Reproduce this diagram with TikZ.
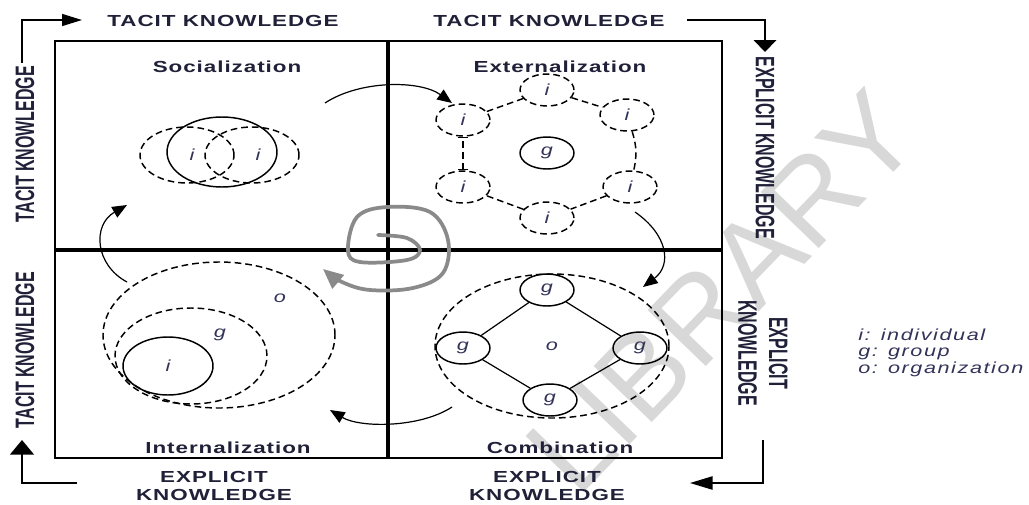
\documentclass[tikz,border=0pt]{standalone}
\usepackage{fontspec}
\usetikzlibrary{shapes.geometric,arrows.meta}
\newfontfamily\hfont{Liberation Sans Bold}[FakeStretch=1.4,LetterSpace=6]
\newfontfamily\vfont{Liberation Sans Bold}[FakeStretch=0.6]
\newfontfamily\lfont{Liberation Sans Italic}[FakeStretch=1.35,LetterSpace=10]
\newfontfamily\wfont{Liberation Sans}
\definecolor{labc}{HTML}{33335A}
\definecolor{txtc}{HTML}{202038}
\definecolor{wmc}{HTML}{D8D8D8}
\definecolor{spc}{HTML}{8A8A8A}
\begin{document}
\begin{tikzpicture}[x=0.75pt,y=-0.75pt,
  hlab/.style={font=\hfont\fontsize{12}{13.5}\selectfont, text=txtc, inner sep=0pt, anchor=base},
  vlab/.style={font=\vfont\fontsize{20}{23}\selectfont, text=txtc, inner sep=0pt, align=center},
  lbl/.style={font=\lfont\fontsize{12}{14}\selectfont, text=labc, inner sep=0pt},
  leg/.style={font=\lfont\fontsize{12}{14}\selectfont, text=labc, inner sep=0pt, anchor=base west},
  ell/.style={ellipse, draw, line width=1.1pt, inner sep=0pt, minimum width=40.5pt, minimum height=24pt,
              font=\lfont\fontsize{12}{14}\selectfont, text=labc},
  dsh/.style={dash pattern=on 5pt off 3pt},
  frame/.style={line width=1.6pt},
  axis/.style={line width=2.3pt},
  cyc/.style={line width=0.9pt, -{Triangle[length=11pt,width=9pt]}},
  link/.style={line width=0.9pt},
  dlink/.style={line width=1.1pt, dsh},
]
\fill[white] (0,0) rectangle (1029,504);
\useasboundingbox (0,0) rectangle (1029,504);

% watermark
\node[font=\wfont\fontsize{88}{88}\selectfont, text=wmc, rotate=46, inner sep=0pt] (wmk) at (722,292) {LIBRARY};

% frame and axes
\draw[frame] (55,41) rectangle (722,458);
\draw[axis] (55,250) -- (722,250);
\draw[axis] (388,41) -- (388,458);

% outer labels
\node[hlab] (tk1) at (223,26) {TACIT KNOWLEDGE};
\node[hlab] (tk2) at (549,26) {TACIT KNOWLEDGE};
\node[vlab, rotate=90] (tk3) at (25,144) {TACIT KNOWLEDGE};
\node[vlab, rotate=90] (tk4) at (25,350) {TACIT KNOWLEDGE};
\node[vlab, rotate=-90] (ek1) at (765,148) {EXPLICIT KNOWLEDGE};
\node[vlab, rotate=-90] (ek2) at (763,353) {EXPLICIT\\KNOWLEDGE};
\node[hlab, align=center, anchor=center] (ek3) at (214,486) {EXPLICIT\\KNOWLEDGE};
\node[hlab, align=center, anchor=center] (ek4) at (547,486) {EXPLICIT\\KNOWLEDGE};

% outer arrows
\coordinate (a1s) at (22,63);  \coordinate (a1e) at (82,20);
\coordinate (a2s) at (687,20); \coordinate (a2e) at (765,52);
\coordinate (a3s) at (763,440); \coordinate (a3e) at (690,483);
\coordinate (a4s) at (77,483);  \coordinate (a4e) at (22,440);
\draw[line width=1.1pt, -{Triangle[length=15pt,width=9pt]}] (a1s) |- (a1e);
\draw[line width=1.1pt, -{Triangle[length=9pt,width=17pt]}] (a2s) -| (a2e);
\draw[line width=1.1pt, -{Triangle[length=17pt,width=10pt]}] (a3s) |- (a3e);
\draw[line width=1.1pt, -{Triangle[length=11pt,width=18pt]}] (a4s) -| (a4e);

% quadrant titles
\node[hlab] (soc) at (227,72) {Socialization};
\node[hlab] (ext) at (560,72) {Externalization};
\node[hlab] (int) at (228,453) {Internalization};
\node[hlab] (com) at (560,453) {Combination};

% Socialization
\node[ell, dsh, minimum width=70.5pt, minimum height=42pt] (s1) at (187,155) {};
\node[ell, dsh, minimum width=70.5pt, minimum height=42pt] (s2) at (252,155) {};
\node[ell, minimum width=82.5pt, minimum height=52.5pt] (s0) at (222,152) {};
\node[lbl] (si1) at (192,155) {i};
\node[lbl] (si2) at (258,155) {i};

% Externalization
\node[ell] (eg) at (547,153) {g};
\node[ell, dsh] (e1) at (463,120) {i};
\node[ell, dsh] (e2) at (547,90) {i};
\node[ell, dsh] (e3) at (627,115) {i};
\node[ell, dsh] (e4) at (630,187) {i};
\node[ell, dsh] (e5) at (547,218) {i};
\node[ell, dsh] (e6) at (463,187) {i};
\draw[dlink] (e1) -- (e2);
\draw[dlink] (e2) -- (e3);
\draw[dlink] (e3) to[bend left=15] (e4);
\draw[dlink] (e4) -- (e5);
\draw[dlink] (e5) -- (e6);
\draw[dlink, {Bar[width=8pt]}-{Bar[width=8pt]}] (e6) -- (e1);

% Combination
\node[ell, dsh, minimum width=175.5pt, minimum height=108pt] (cbig) at (552,346) {o};
\node[ell] (cg1) at (547,290) {g};
\node[ell] (cg2) at (463,348) {g};
\node[ell] (cg3) at (640,348) {g};
\node[ell] (cg4) at (550,400) {g};
\draw[link] (cg1) -- (cg2);
\draw[link] (cg1) -- (cg3);
\draw[link] (cg2) -- (cg4);
\draw[link] (cg3) -- (cg4);

% Internalization
\node[ell, dsh, minimum width=174pt, minimum height=109.5pt] (io) at (219,335) {};
\node[ell, dsh, minimum width=114pt, minimum height=72pt] (ig) at (191,356) {};
\node[ell, minimum width=67.5pt, minimum height=43.5pt] (ii) at (168,366) {i};
\node[lbl] (iol) at (280,298) {o};
\node[lbl] (igl) at (220,335) {g};

% cycle arrows
\coordinate (q1s) at (325,103); \coordinate (q1e) at (452,103);
\coordinate (q2s) at (635,212); \coordinate (q2e) at (643,287);
\coordinate (q3s) at (452,407); \coordinate (q3e) at (330,410);
\coordinate (q4s) at (127,282); \coordinate (q4e) at (127,205);
\draw[cyc] (q1s) .. controls (360,80) and (420,80) .. (q1e);
\draw[cyc] (q2s) .. controls (668,235) and (672,265) .. (q2e);
\draw[cyc] (q3s) .. controls (420,428) and (360,428) .. (q3e);
\draw[cyc] (q4s) .. controls (95,265) and (92,225) .. (q4e);

% hand-drawn spiral
\draw[spc, line width=2.8pt, line cap=round, line join=round, -{Triangle[length=15pt,width=13pt]}]
  plot[smooth, tension=0.6] coordinates {(378,235) (407,238) (420,250) (407,260) (360,262) (348,250) (357,217) (387,207) (430,212) (448,240) (443,273) (413,288) (370,290) (342,282) (323,269)};

% legend
\node[leg] (l1) at (858,340) {i: individual};
\node[leg] (l2) at (858,356) {g: group};
\node[leg] (l3) at (858,373) {o: organization};
\end{tikzpicture}
\end{document}
